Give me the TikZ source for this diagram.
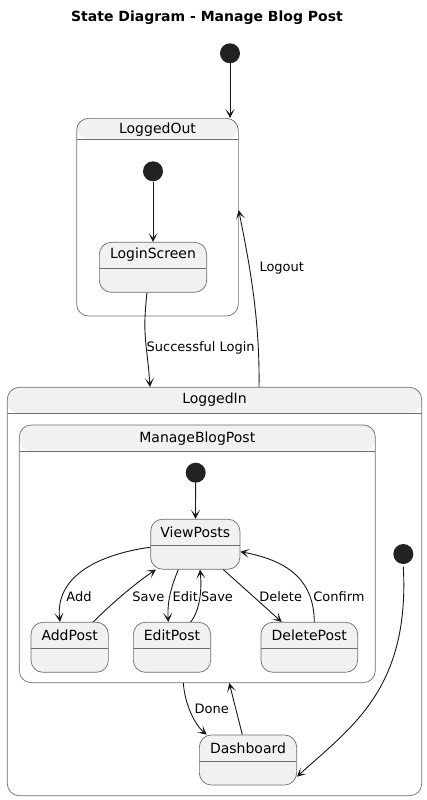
\documentclass[tikz,border=0pt]{standalone}
\usepackage{fontspec}
\setmainfont{DejaVu Sans}
\usetikzlibrary{arrows.meta}
\definecolor{stategray}{HTML}{F1F1F1}
\definecolor{stateborder}{HTML}{6E6E6E}
\definecolor{umlblack}{HTML}{181818}
\definecolor{dotblack}{HTML}{222222}
\begin{document}
\begin{tikzpicture}[x=1pt,y=-1pt,
  statebox/.style={draw=stateborder, line width=0.7pt, rounded corners=12pt, inner sep=0pt},
  headerband/.style={path picture={
    \fill[stategray] (path picture bounding box.north west) rectangle ([yshift=-#1]path picture bounding box.north east);
    \draw[stateborder, line width=0.7pt] ([yshift=-#1]path picture bounding box.north west) -- ([yshift=-#1]path picture bounding box.north east);}},
  composite/.style={statebox, fill=white, headerband=26pt},
  simple/.style={statebox, fill=stategray, headerband=26pt, minimum height=50pt},
  statename/.style={anchor=center, inner sep=0pt, font=\fontsize{14}{16}\selectfont},
  startdot/.style={circle, fill=dotblack, minimum size=20pt, inner sep=0pt},
  trans/.style={-{Stealth[length=9pt,width=9pt,inset=5pt]}, umlblack, line width=0.9pt},
  lbl/.style={inner sep=0pt, font=\fontsize{13}{15}\selectfont}]
\useasboundingbox (0,0) rectangle (427,800);

\node[font=\bfseries\fontsize{14}{16}\selectfont] (title) at (207,18) {State Diagram - Manage Blog Post};

% outer states
\node[composite, headerband=21pt, minimum width=161.7pt, minimum height=197.7pt] (loggedout) at (157.5,217.2) {};
\node[statename] (loggedout-t) at (157.5,129.5) {LoggedOut};
\node[composite, minimum width=414.4pt, minimum height=408.4pt] (loggedin) at (214.5,591.5) {};
\node[statename] (loggedin-t) at (214.5,400) {LoggedIn};
\node[composite, minimum width=356pt, minimum height=257.7pt] (manage) at (197.3,553.8) {};
\node[statename] (manage-t) at (197.3,438.3) {ManageBlogPost};

% simple states
\node[simple, minimum width=107.3pt] (login) at (153,267.3) {};
\node[statename] (login-t) at (153,255) {LoginScreen};
\node[simple, minimum width=89.3pt] (view) at (195.3,544.2) {};
\node[statename] (view-t) at (195.3,532.5) {ViewPosts};
\node[simple, minimum width=77.3pt] (add) at (69.7,647.3) {};
\node[statename] (add-t) at (69.7,635.5) {AddPost};
\node[simple, minimum width=77.3pt] (edit) at (172,647.3) {};
\node[statename] (edit-t) at (172,635.5) {EditPost};
\node[simple, minimum width=96.7pt] (delete) at (309.3,647.3) {};
\node[statename] (delete-t) at (309.3,635.5) {DeletePost};
\node[simple, minimum width=97.3pt] (dash) at (248,760) {};
\node[statename] (dash-t) at (248,748.5) {Dashboard};

% initial states
\node[startdot] (s0) at (230,53.3) {};
\node[startdot] (s1) at (153,171.3) {};
\node[startdot] (s2) at (195.7,472.7) {};
\node[startdot] (s3) at (403.3,554) {};

\draw[trans] (s0) -- (s0 |- loggedout.north);
\draw[trans] (s1) -- (login);
\draw[trans] ([xshift=-6pt]login.south) .. controls +(-5,45) and +(-3,-45) .. ([xshift=-64.5pt]loggedin.north);
\node[lbl, anchor=west] (loginl) at (146.5,348.3) {Successful Login};
\draw[trans] ([xshift=44.5pt]loggedin.north) .. controls +(1,-70) and +(10,50) .. ([yshift=7pt]loggedout.east);
\node[lbl, anchor=west] (logoutl) at (259.3,267.7) {Logout};

\draw[trans] (s2) -- (view);
\draw[trans] ([yshift=-3pt]view.west) .. controls (95,555) and (55,578) .. ([xshift=-9.7pt]add.north);
\node[lbl] (addl) at (79,596.7) {Add};
\draw[trans] ([xshift=23.6pt]add.north) .. controls (115,600) and (140,580) .. ([xshift=-39.3pt]view.south);
\node[lbl] (save1) at (148.3,596.7) {Save};
\draw[trans] ([xshift=-17pt]view.south) .. controls (172,585) and (167,600) .. ([xshift=-3.7pt]edit.north);
\node[lbl] (editl) at (185.3,596.7) {Edit};
\draw[trans] ([xshift=18.7pt]edit.north) .. controls (200,610) and (202,590) .. ([xshift=4.7pt]view.south);
\node[lbl] (save2) at (217,596.7) {Save};
\draw[trans] ([xshift=28pt]view.south) -- ([xshift=-27.6pt]delete.north);
\node[lbl] (deletel) at (280.7,596.7) {Delete};
\draw[trans] ([xshift=5pt]delete.north) .. controls (314,578) and (285,560) .. ([yshift=-7.5pt]view.east);
\node[lbl] (confirml) at (339,596.7) {Confirm};

\draw[trans] ([xshift=-14pt]manage.south) .. controls (185,705) and (195,725) .. ([xshift=-41.3pt]dash.north);
\node[lbl] (donel) at (211.7,709.3) {Done};
\draw[trans] ([xshift=-5.7pt]dash.north) -- ([xshift=32pt]manage.south);
\draw[trans] ([yshift=-12.7pt]s3.center) .. controls (410,690) and (350,728) .. ([yshift=-16.7pt]dash.east);
\end{tikzpicture}
\end{document}
